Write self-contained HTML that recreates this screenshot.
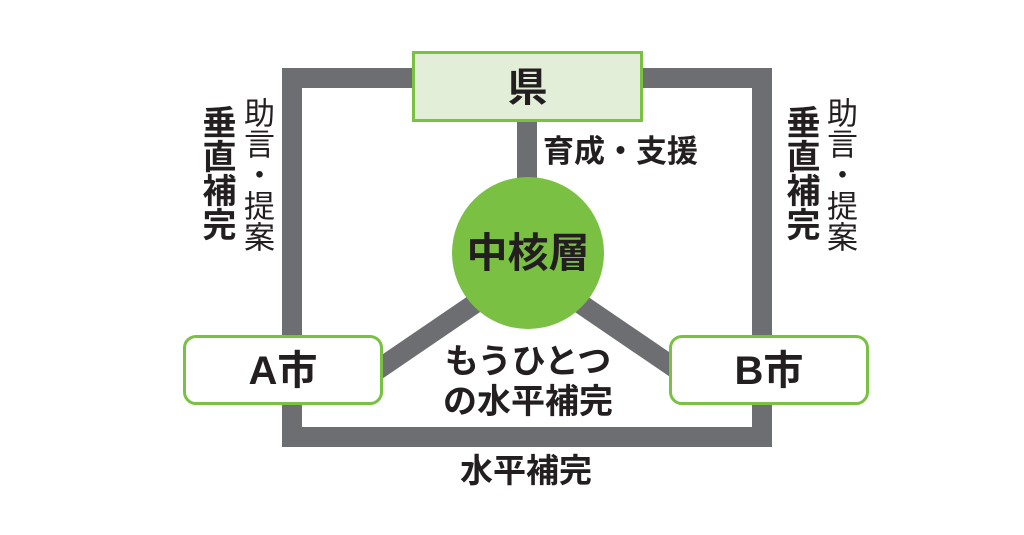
<!DOCTYPE html>
<html><head><meta charset="utf-8"><style>
body{margin:0;width:1024px;height:535px;background:#fff;position:relative;overflow:hidden;font-family:"Liberation Sans","Noto Sans CJK JP",sans-serif;color:#231f20}
.a{position:absolute}
.g{position:absolute;background:#6d6e71}
.v{position:absolute;writing-mode:vertical-rl;line-height:34px}
.t{position:absolute;white-space:nowrap;font-weight:bold}
</style></head><body>
<div class="g" style="left:282px;top:68px;width:20px;height:379px"></div>
<div class="g" style="left:752px;top:68px;width:20px;height:379px"></div>
<div class="g" style="left:282px;top:68px;width:490px;height:20px"></div>
<div class="g" style="left:282px;top:427px;width:490px;height:20px"></div>
<div class="g" style="left:517px;top:120px;width:20px;height:70px"></div>
<svg class="a" style="left:0;top:0" width="1024" height="535"><line x1="480" y1="300" x2="370" y2="375" stroke="#6d6e71" stroke-width="20"/><line x1="575" y1="300" x2="685" y2="375" stroke="#6d6e71" stroke-width="20"/></svg>
<div class="a" style="left:412px;top:51px;width:225px;height:65px;background:#e2eed7;border:3px solid #7ac143;text-align:center;font-weight:bold;font-size:40px;line-height:68px">県</div>
<div class="a" style="left:452px;top:177px;width:152px;height:152px;border-radius:50%;background:#7ac143;text-align:center;font-weight:bold;font-size:41px;line-height:152px">中核層</div>
<div class="a" style="left:183px;top:335px;width:194px;height:64px;border:3px solid #7ac143;border-radius:13px;background:#fff;text-align:center;font-weight:bold;font-size:40px;line-height:66px">A市</div>
<div class="a" style="left:669px;top:335px;width:194px;height:64px;border:3px solid #7ac143;border-radius:13px;background:#fff;text-align:center;font-weight:bold;font-size:40px;line-height:66px">B市</div>
<div class="t" style="left:543px;top:134px;font-size:31px;line-height:36px">育成・支援</div>
<div class="t" style="left:443px;top:342px;font-size:34px;line-height:40px;text-align:center">もうひとつ<br>の水平補完</div>
<div class="t" style="left:460px;top:451px;font-size:33px;line-height:40px">水平補完</div>
<div class="v" style="left:199px;top:105px;font-weight:bold;font-size:34px">垂直補完</div>
<div class="v" style="left:239px;top:97px;font-size:31px">助言・提案</div>
<div class="v" style="left:783px;top:105px;font-weight:bold;font-size:34px">垂直補完</div>
<div class="v" style="left:822px;top:97px;font-size:31px">助言・提案</div>
</body></html>
